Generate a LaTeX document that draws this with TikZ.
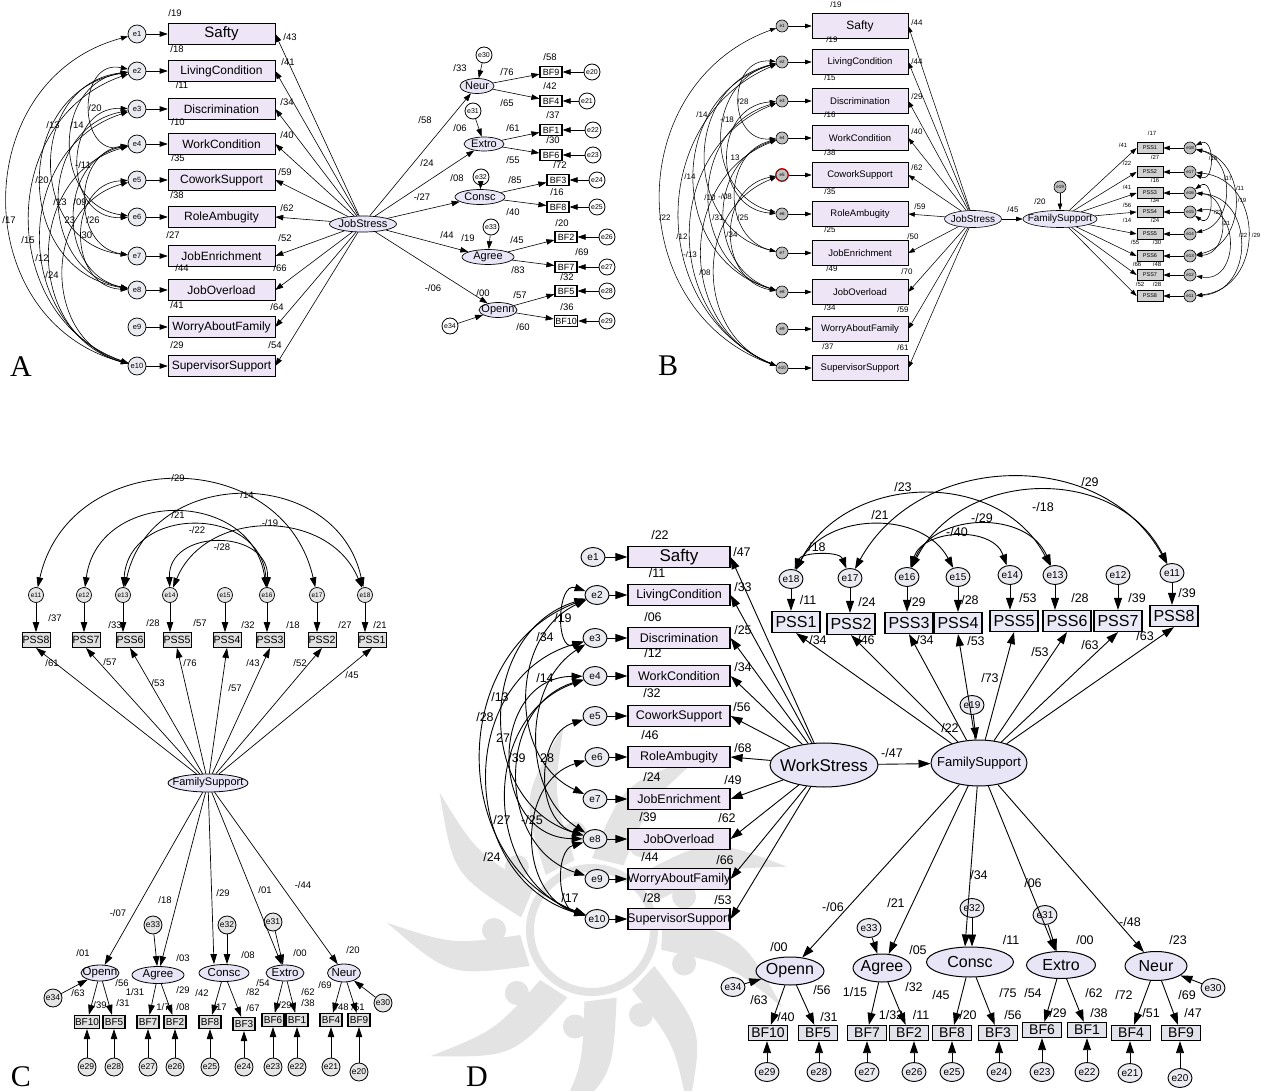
\documentclass[tikz,border=0pt]{standalone}
\usepackage{fontspec}
\setmainfont{Liberation Sans}
\newfontfamily\letterfont{Liberation Serif}
\usetikzlibrary{arrows.meta,shapes.geometric}
\definecolor{boxfill}{RGB}{238,229,247}
\definecolor{ellfill}{RGB}{232,230,246}
\definecolor{errfill}{RGB}{234,234,241}
\definecolor{pssfill}{RGB}{234,234,246}
\definecolor{bffill}{RGB}{226,226,234}
\newcommand\fsz[1]{\fontsize{#1}{#1}\selectfont}
\newcommand\covleft[5]{\pgfmathsetmacro\covk{#4*cot(2*atan(1.5*#4/#5))}\pgfmathsetmacro\covkn{-\covk}%
  \draw[#1] (#2) .. controls +(-#4,\covk) and +(-#4,\covkn) .. (#3);}
\newcommand\covright[5]{\pgfmathsetmacro\covk{#4*cot(2*atan(1.5*#4/#5))}\pgfmathsetmacro\covkn{-\covk}%
  \draw[#1] (#2) .. controls +(#4,\covk) and +(#4,\covkn) .. (#3);}
\newcommand\covup[5]{\pgfmathsetmacro\covk{#4*cot(2*atan(1.5*#4/#5))}\pgfmathsetmacro\covkn{-\covk}%
  \draw[#1] (#2) .. controls +(\covk,-#4) and +(\covkn,-#4) .. (#3);}
\tikzset{
 aBox/.style={draw,line width=.6pt,fill=boxfill,minimum width=107pt,minimum height=21pt,inner xsep=-4pt,inner ysep=0pt,font=\fsz{12}},
 aErr/.style={circle,draw,line width=.7pt,fill=errfill,minimum size=18pt,inner sep=0pt,font=\fsz{7.5}},
 aLat/.style={ellipse,draw,line width=.7pt,fill=ellfill,inner xsep=-8pt,inner ysep=-3pt,font=\fsz{11}},
 aBF/.style={draw,line width=1.2pt,fill=white,minimum width=22pt,minimum height=11pt,inner xsep=1pt,inner ysep=0pt,font=\fsz{9}},
 aE2/.style={circle,draw,line width=.8pt,fill=white,minimum size=16pt,inner sep=0pt,font=\fsz{7}},
 aArr/.style={line width=.6pt,arrows={-Triangle[length=8pt,width=5.5pt]}},
 aCov/.style={line width=.6pt,arrows={Triangle[length=7pt,width=5pt]-Triangle[length=7pt,width=5pt]}},
 aLab/.style={every node/.style={font=\fsz{9.5},inner sep=0pt}},
 bBox/.style={draw,line width=.6pt,fill=boxfill,minimum width=96pt,minimum height=25pt,inner xsep=-4pt,inner ysep=0pt,font=\fsz{9.5}},
 bErr/.style={circle,draw,line width=.6pt,fill=black!25,minimum size=12pt,inner sep=0pt,font=\fsz{4.5}},
 bLat/.style={ellipse,draw,line width=.6pt,fill=ellfill,inner xsep=-8pt,inner ysep=-3pt,font=\fsz{10}},
 bPSS/.style={draw,line width=.8pt,fill=black!18,minimum width=26pt,minimum height=11pt,inner sep=0pt,font=\fsz{5.5}},
 bArr/.style={line width=.55pt,arrows={-Triangle[length=6.5pt,width=4.5pt]}},
 bCov/.style={line width=.55pt,arrows={Triangle[length=6pt,width=4pt]-Triangle[length=6pt,width=4pt]}},
 bLab/.style={every node/.style={font=\fsz{8},inner sep=0pt}},
 bLabS/.style={every node/.style={font=\fsz{6},inner sep=0pt}},
 cPSS/.style={draw,line width=.9pt,fill=black!12,minimum width=28pt,minimum height=15pt,inner xsep=0pt,inner ysep=0pt,font=\fsz{10.5}},
 cErr/.style={circle,draw,line width=.7pt,fill=black!10,minimum size=15pt,inner sep=0pt,font=\fsz{6.5}},
 cErrB/.style={circle,draw,line width=.8pt,fill=black!10,minimum size=18pt,inner sep=0pt,font=\fsz{8.5}},
 cLat/.style={ellipse,draw,line width=.8pt,fill=ellfill,inner xsep=-8pt,inner ysep=-3pt,font=\fsz{11.5}},
 cBF/.style={draw,line width=1.3pt,fill=black!12,minimum width=22pt,minimum height=13pt,inner xsep=.5pt,inner ysep=0pt,font=\fsz{10}},
 cArr/.style={line width=.7pt,arrows={-Triangle[length=10pt,width=6.5pt]}},
 cCov/.style={line width=.8pt,arrows={Triangle[length=10pt,width=6.5pt]-Triangle[length=10pt,width=6.5pt]}},
 cLab/.style={every node/.style={font=\fsz{9.5},inner sep=0pt}},
 dBox/.style={draw,line width=1.2pt,fill=boxfill,minimum width=102pt,minimum height=21pt,inner xsep=-8pt,inner ysep=0pt,font=\fsz{12.5}},
 dErr/.style={ellipse,draw,line width=.9pt,fill=errfill,minimum width=24pt,minimum height=19pt,inner xsep=-4pt,inner ysep=-2pt,font=\fsz{10}},
 dLat/.style={ellipse,draw,line width=1pt,fill=ellfill,inner xsep=-10pt,inner ysep=-4pt,font=\fsz{16}},
 dPSS/.style={draw,line width=1.2pt,fill=pssfill,minimum width=48pt,minimum height=21pt,inner xsep=-2pt,inner ysep=0pt,font=\fsz{16}},
 dBF/.style={draw,line width=1.3pt,fill=bffill,minimum width=39pt,minimum height=15pt,inner xsep=-2pt,inner ysep=0pt,font=\fsz{14}},
 dArr/.style={line width=.9pt,arrows={-Triangle[length=12pt,width=8pt]}},
 dCov/.style={line width=.9pt,arrows={Triangle[length=11pt,width=7.5pt]-Triangle[length=11pt,width=7.5pt]}},
 dLab/.style={every node/.style={font=\fsz{12.5},inner sep=0pt}},
 letter/.style={font=\letterfont\fsz{30},inner sep=0pt},
 wm/.style={fill=black!11},
}
\begin{document}
\begin{tikzpicture}[x=1pt,y=-1pt]
\useasboundingbox (0,0) rectangle (1261,1091);
\fill[white] (0,0) rectangle (1261,1091);
% ---------- watermark behind panel D ----------
\begin{scope}[shift={(592,930)}]
\foreach \a in {0,40,...,320}{
 \fill[wm] (\a-10:72) .. controls (\a+2:150) .. (\a+22:205) .. controls (\a+14:140) .. (\a+16:72) -- cycle;}
\draw[black!11,line width=8pt] (0,0) circle[radius=62];
\foreach \a in {20,60,...,340}{\fill[wm] (\a:98) circle[radius=12];}
\end{scope}

% ================= PANEL A =================
\foreach \i/\y/\t in {1/34/{\fsz{15}Safty},2/71/LivingCondition,3/109/Discrimination,4/144/WorkCondition,5/180/CoworkSupport,6/217/RoleAmbugity,7/256/JobEnrichment,8/290/JobOverload,9/327/WorryAboutFamily,10/366/SupervisorSupport}{
 \node[aBox] (aB\i) at (221.5,\y) {\t};
 \node[aErr] (aE\i) at (137,\y) {e\i};
 \draw[aArr] (aE\i) -- (aB\i);}
\node[aLat,minimum width=67pt,minimum height=16pt] (aJS) at (363,224) {JobStress};
\foreach \i in {1,...,10}{\draw[aArr] (aJS) -- (aB\i.east);}
\node[aLat,minimum width=34pt,minimum height=15pt] (aNeur) at (477,86) {Neur};
\node[aLat,minimum width=40pt,minimum height=14pt] (aExtro) at (484,144) {Extro};
\node[aLat,minimum width=50pt,minimum height=15pt] (aConsc) at (480,197) {Consc};
\node[aLat,minimum width=52pt,minimum height=15pt] (aAgree) at (488,257) {Agree};
\node[aLat,minimum width=38pt,minimum height=15pt] (aOpenn) at (498,310) {Openn};
\foreach \l in {Neur,Extro,Consc,Agree,Openn}{\draw[aArr] (aJS) -- (a\l);}
\foreach \n/\x/\y/\e/\ex/\l in {9/551/72/20/592/Neur,4/551/101/21/587/Neur,1/551/130/22/593/Extro,6/551/155/23/593/Extro,3/558/180/24/597/Consc,8/558/207/25/597/Consc,2/566/237/26/607/Agree,7/566/267/27/607/Agree,5/566/291/28/607/Openn,10/566/321/29/607/Openn}{
 \node[aBF] (aBF\n) at (\x,\y) {BF\n};
 \node[aE2] (aE\e) at (\ex,\y) {e\e};
 \draw[aArr] (aE\e) -- (aBF\n);
 \draw[aArr] (a\l) -- (aBF\n);}
\node[aE2] (aE30) at (484,55) {e30};
\node[aE2] (aE31) at (473,111) {e31};
\node[aE2] (aE32) at (481,177) {e32};
\node[aE2] (aE33) at (491,227) {e33};
\node[aE2] (aE34) at (450,326) {e34};
\draw[aArr] (aE30) -- (aNeur);
\draw[aArr] (aE31) -- (aExtro);
\draw[aArr] (aE32) -- (aConsc);
\draw[aArr] (aE33) -- (aAgree);
\draw[aArr] (aE34) -- (aOpenn);
\covleft{aCov}{aE1}{aE10}{170}{332}
\covleft{aCov}{aE2}{aE10}{140}{295}
\covleft{aCov}{aE3}{aE10}{125}{257}
\covleft{aCov}{aE4}{aE10}{113}{222}
\covleft{aCov}{aE2}{aE8}{125}{219}
\covleft{aCov}{aE2}{aE7}{110}{185}
\covleft{aCov}{aE2}{aE6}{85}{146}
\covleft{aCov}{aE2}{aE4}{60}{73}
\covleft{aCov}{aE3}{aE6}{75}{108}
\covleft{aCov}{aE3}{aE8}{100}{181}
\covleft{aCov}{aE4}{aE8}{80}{146}
\covleft{aCov}{aE5}{aE10}{95}{186}
\covleft{aCov}{aE4}{aE7}{65}{112}
\covleft{aCov}{aE5}{aE8}{70}{110}
\path[aLab] (175,13) node{/19} (177,49) node{/18} (182,85) node{/11} (178,122) node{/10} (178,158) node{/35}
 (177,195) node{/38} (173,235) node{/27} (182,268) node{/44} (177,305) node{/41} (177,345) node{/29}
 (290,37) node{/43} (288,62) node{/41} (287,102) node{/34} (287,135) node{/40} (285,172) node{/59}
 (287,208) node{/62} (285,238) node{/52} (280,268) node{/66} (277,307) node{/64} (275,345) node{/54}
 (95,108) node{/20} (53,125) node{/13} (77,125) node{/14} (83,165) node{-/11} (42,180) node{/20}
 (60,202) node{/13} (80,202) node{/09} (9,220) node{/17} (70,220) node{23} (93,220) node{/26}
 (28,240) node{/15} (87,235) node{30} (42,258) node{/12} (52,275) node{/24}
 (460,68) node{/33} (507,72) node{/76} (550,57) node{/58} (550,86) node{/42} (507,103) node{/65}
 (425,120) node{/58} (460,128) node{/06} (513,128) node{/61} (553,115) node{/37} (553,140) node{/30}
 (513,160) node{/55} (427,163) node{/24} (457,178) node{/08} (515,180) node{/85} (560,165) node{/72}
 (557,192) node{/16} (513,212) node{/40} (422,197) node{-/27} (447,235) node{/44} (468,238) node{/19}
 (517,240) node{/45} (562,223) node{/20} (582,252) node{/69} (518,270) node{/83} (567,277) node{/32}
 (520,295) node{/57} (483,293) node{/00} (433,288) node{-/06} (567,307) node{/36} (523,327) node{/60};
\node[letter] (lA) at (21,367) {A};

% ================= PANEL B =================
\foreach \i/\y/\t in {1/26/{\fsz{12}Safty},2/62/LivingCondition,3/101/Discrimination,4/138/WorkCondition,5/175/CoworkSupport,6/214/RoleAmbugity,7/253/JobEnrichment,8/292/JobOverload,9/329/WorryAboutFamily,10/368/SupervisorSupport}{
 \node[bBox] (bB\i) at (860,\y) {\t};
 \node[bErr] (bE\i) at (782,\y) {e\i};
 \draw[bArr] (bE\i) -- (bB\i);}
\draw[red!80!black,line width=.8pt] (bE5.center) circle[radius=6.5];
\node[bLat,minimum width=57pt,minimum height=17pt] (bJS) at (973,219) {JobStress};
\node[bLat,minimum width=74pt,minimum height=17pt] (bFS) at (1060,219) {FamilySupport};
\node[bErr] (bE19) at (1060,187) {e19};
\draw[bArr] (bJS) -- (bFS);
\draw[bArr] (bE19) -- (bFS);
\foreach \i in {1,...,10}{\draw[bArr] (bJS) -- (bB\i.east);}
\foreach \i/\y/\e in {1/148/18,2/172/17,3/193/16,4/212/15,5/234/14,6/256/13,7/275/12,8/296/11}{
 \node[bPSS] (bP\i) at (1150,\y) {PSS\i};
 \node[bErr] (bE\e) at (1190,\y) {e\e};
 \draw[bArr] (bE\e) -- (bP\i);
 \draw[bArr] (bFS) -- (bP\i.west);}
\covleft{bCov}{bE1}{bE10}{160}{342}
\covleft{bCov}{bE2}{bE10}{135}{306}
\covleft{bCov}{bE3}{bE10}{120}{267}
\covleft{bCov}{bE4}{bE10}{105}{230}
\covleft{bCov}{bE2}{bE8}{115}{230}
\covleft{bCov}{bE2}{bE7}{100}{191}
\covleft{bCov}{bE2}{bE6}{78}{152}
\covleft{bCov}{bE2}{bE4}{55}{76}
\covleft{bCov}{bE3}{bE6}{70}{113}
\covleft{bCov}{bE3}{bE8}{95}{191}
\covleft{bCov}{bE4}{bE8}{75}{154}
\covleft{bCov}{bE5}{bE10}{88}{193}
\covleft{bCov}{bE4}{bE7}{60}{115}
\covleft{bCov}{bE5}{bE8}{65}{117}
\covright{bCov}{bE18}{bE17}{25}{24}
\covright{bCov}{bE18}{bE14}{45}{86}
\covright{bCov}{bE17}{bE11}{75}{124}
\covright{bCov}{bE18}{bE13}{58}{108}
\covright{bCov}{bE16}{bE15}{25}{19}
\covright{bCov}{bE16}{bE13}{40}{63}
\covright{bCov}{bE15}{bE12}{50}{63}
\covright{bCov}{bE16}{bE11}{65}{103}
\path[bLab] (836,5) node{/19} (832,40) node{/19} (830,78) node{/15} (830,115) node{/16} (830,153) node{/38}
 (830,192) node{/35} (830,230) node{/25} (832,269) node{/49} (830,308) node{/34} (828,347) node{/37}
 (917,23) node{/44} (917,62) node{/44} (917,97) node{/29} (917,132) node{/40} (917,168) node{/62}
 (920,207) node{/59} (913,237) node{/50} (907,272) node{/70} (903,310) node{/59} (903,348) node{/61}
 (743,102) node{/28} (702,115) node{/14} (727,120) node{-/18} (735,158) node{13} (690,177) node{/14}
 (710,198) node{/10} (725,197) node{-/08} (665,218) node{/22} (718,218) node{/31} (743,218) node{/25}
 (682,237) node{/12} (732,235) node{/34} (690,255) node{-/13} (705,273) node{/08}
 (1013,210) node{/45} (1040,202) node{/20};
\path[bLabS] (1152,133) node{/17} (1123,145) node{/41} (1127,163) node{/22} (1155,157) node{/27}
 (1155,180) node{/16} (1127,187) node{/41} (1155,200) node{/34} (1127,205) node{/56} (1127,220) node{/14}
 (1155,220) node{/24} (1135,242) node{/55} (1157,242) node{/30} (1137,264) node{/66} (1157,264) node{/48}
 (1140,284) node{/52} (1157,284) node{/28}
 (1213,158) node{/16} (1228,178) node{/17} (1240,188) node{/11} (1242,200) node{/19} (1218,212) node{/23}
 (1226,223) node{/21} (1243,235) node{/22} (1256,235) node{/29};
\node[letter] (lB) at (668,366) {B};

% ================= PANEL C =================
\node[cLat,minimum width=80pt,minimum height=18pt,font=\fsz{11}] (cFS) at (208,783) {FamilySupport};
\foreach \i/\x/\e/\ex in {8/36/11/36,7/86/12/84,6/130/13/123,5/177/14/170,4/227/15/225,3/270/16/267,2/322/17/317,1/372/18/365}{
 \node[cPSS] (cP\i) at (\x,640) {PSS\i};
 \node[cErr] (cE\e) at (\ex,595) {e\e};
 \draw[cArr] (cE\e) -- (cE\e |- cP\i.north);
 \draw[cArr] (cFS) -- (cP\i.south);}
\covup{cCov}{cE11}{cE17}{150}{281}
\covup{cCov}{cE13}{cE18}{130}{242}
\covup{cCov}{cE12}{cE16}{107}{183}
\covup{cCov}{cE13}{cE16}{90}{144}
\covup{cCov}{cE14}{cE18}{87}{195}
\covup{cCov}{cE14}{cE16}{67}{97}
\node[cLat,minimum width=38pt,minimum height=16pt] (cOpenn) at (100,973) {Openn};
\node[cLat,minimum width=52pt,minimum height=17pt] (cAgree) at (158,975) {Agree};
\node[cLat,minimum width=50pt,minimum height=17pt] (cConsc) at (224,973) {Consc};
\node[cLat,minimum width=38pt,minimum height=16pt] (cExtro) at (285,973) {Extro};
\node[cLat,minimum width=33pt,minimum height=18pt] (cNeur) at (344,973) {Neur};
\foreach \n/\x/\y/\l/\e/\ey in {10/87/1022/Openn/29/1067,5/114/1022/Openn/28/1067,7/148/1022/Agree/27/1067,2/175/1022/Agree/26/1067,8/210/1022/Consc/25/1067,3/244/1024/Consc/24/1067,6/273/1020/Extro/23/1067,1/297/1020/Extro/22/1067,4/331/1020/Neur/21/1067,9/359/1020/Neur/20/1072}{
 \node[cBF] (cBF\n) at (\x,\y) {BF\n};
 \node[cErrB] (cE\e) at (\x,\ey) {e\e};
 \draw[cArr] (cE\e) -- (cBF\n);
 \draw[cArr] (c\l) -- (cBF\n);}
\node[cErrB] (cE33) at (153,925) {e33};
\node[cErrB] (cE32) at (227,925) {e32};
\node[cErrB] (cE31) at (273,922) {e31};
\node[cErrB] (cE34) at (53,998) {e34};
\node[cErrB] (cE30) at (383,1003) {e30};
\draw[cArr] (cFS) -- (cOpenn);
\draw[cArr] (cFS) -- (cAgree);
\draw[cArr] (cFS) -- ([xshift=-10pt]cConsc.north);
\draw[cArr] (cFS) -- (cExtro);
\draw[cArr] (cFS) -- (cNeur);
\draw[cArr] (cE33) -- (cAgree);
\draw[cArr] (cE32) -- (cE32 |- cConsc.north);
\draw[cArr] (cE31) -- (cExtro);
\draw[cArr] (cE34) -- (cOpenn);
\draw[cArr] (cE30) -- (cNeur);
\path[cLab] (178,478) node{/29} (247,495) node{/14} (178,515) node{/21} (270,523) node{-/19} (197,530) node{-/22} (222,547) node{-/28}
 (55,618) node{/37} (115,625) node{/33} (153,623) node{/28} (200,623) node{/57} (248,625) node{/32} (293,625) node{/18} (345,625) node{/27} (380,625) node{/21}
 (52,663) node{/61} (110,662) node{/57} (158,683) node{/53} (190,663) node{/76} (235,688) node{/57} (253,663) node{/43} (300,663) node{/52} (352,675) node{/45}
 (118,913) node{-/07} (165,900) node{/18} (223,893) node{/29} (265,890) node{/01} (303,885) node{-/44}
 (83,953) node{/01} (183,958) node{/03} (248,955) node{/08} (300,953) node{/00} (353,950) node{/20}
 (78,993) node{/63} (122,983) node{/56} (100,1005) node{/39} (123,1003) node{/31} (135,992) node{1/31}
 (183,990) node{/29} (163,1007) node{1/7} (183,1007) node{/08} (202,993) node{/42} (220,1007) node{/17}
 (253,992) node{/82} (253,1008) node{/67} (263,983) node{/54} (285,1005) node{/29} (308,992) node{/62}
 (308,1003) node{/38} (325,985) node{/69} (342,1007) node{/48} (358,1007) node{/51};
\node[letter] (lC) at (21,1077) {C};

% ================= PANEL D =================
\foreach \i/\y/\ex/\t in {1/557/593/{\fsz{17}Safty},2/595/597/LivingCondition,3/638/595/Discrimination,4/676/595/WorkCondition,5/716/595/CoworkSupport,6/757/597/RoleAmbugity,7/799/595/JobEnrichment,8/839/595/JobOverload,9/879/597/WorryAboutFamily,10/919/597/SupervisorSupport}{
 \node[dBox] (dB\i) at (679,\y) {\t};
 \node[dErr] (dE\i) at (\ex,\y) {e\i};
 \draw[dArr] (dE\i) -- (dB\i);}
\node[dLat,minimum width=108pt,minimum height=44pt,font=\fsz{17}] (dWS) at (824,765) {WorkStress};
\node[dLat,minimum width=96pt,minimum height=46pt,font=\fsz{13}] (dFS) at (979,763) {FamilySupport};
\foreach \i in {1,...,10}{\draw[dArr] (dWS) -- (dB\i.east);}
\draw[dArr] (dWS) -- (dFS);
\node[dErr] (dE19) at (972,705) {e19};
\draw[dArr] (dE19) -- (dFS);
\foreach \i/\x/\y/\e/\ex/\ey in {1/796/622/18/791/579,2/851/624/17/850/578,3/909/623/16/907/577,4/958/623/15/958/577,5/1014/621/14/1010/575,6/1067/621/13/1055/575,7/1118/621/12/1118/575,8/1174/616/11/1172/573}{
 \node[dPSS] (dP\i) at (\x,\y) {PSS\i};
 \node[dErr] (dE\e) at (\ex,\ey) {e\e};
 \draw[dArr] (dE\e) -- (dE\e |- dP\i.north);
 \draw[dArr] (dFS) -- (dP\i.south);}
\covup{dCov}{dE18}{dE17}{27}{59}
\covup{dCov}{dE18}{dE13}{107}{264}
\covup{dCov}{dE17}{dE11}{127}{322}
\covup{dCov}{dE18}{dE15}{67}{167}
\covup{dCov}{dE16}{dE11}{109}{265}
\covup{dCov}{dE16}{dE13}{65}{148}
\covup{dCov}{dE16}{dE14}{49}{103}
\covleft{dCov}{dE2}{dE3}{40}{43}
\covleft{dCov}{dE2}{dE7}{87}{204}
\covleft{dCov}{dE3}{dE8}{73}{201}
\covleft{dCov}{dE2}{dE8}{120}{244}
\covleft{dCov}{dE2}{dE10}{150}{324}
\covleft{dCov}{dE3}{dE10}{140}{281}
\covleft{dCov}{dE4}{dE8}{107}{163}
\covleft{dCov}{dE4}{dE9}{100}{203}
\covleft{dCov}{dE5}{dE8}{60}{123}
\covleft{dCov}{dE4}{dE10}{115}{243}
\covleft{dCov}{dE6}{dE10}{80}{162}
\covleft{dCov}{dE8}{dE10}{40}{80}
\node[dLat,minimum width=68pt,minimum height=28pt] (dOpenn) at (790,971) {Openn};
\node[dLat,minimum width=58pt,minimum height=28pt] (dAgree) at (882,968) {Agree};
\node[dLat,minimum width=87pt,minimum height=30pt] (dConsc) at (970,962) {Consc};
\node[dLat,minimum width=69pt,minimum height=27pt] (dExtro) at (1061,965) {Extro};
\node[dLat,minimum width=62pt,minimum height=29pt] (dNeur) at (1156,966) {Neur};
\foreach \n/\x/\y/\l/\e/\ex/\ey in {10/768/1033/Openn/29/767/1072,5/818/1033/Openn/28/819/1072,7/867/1033/Agree/27/867/1072,2/909/1033/Agree/26/914/1072,8/952/1033/Consc/25/952/1072,3/998/1033/Consc/24/999/1072,6/1042/1030/Extro/23/1042/1072,1/1087/1030/Extro/22/1087/1072,4/1131/1033/Neur/21/1130/1073,9/1181/1033/Neur/20/1180/1078}{
 \node[dBF] (dBF\n) at (\x,\y) {BF\n};
 \node[dErr] (dE\e) at (\ex,\ey) {e\e};
 \draw[dArr] (dE\e) -- (dE\e |- dBF\n.south);
 \draw[dArr] (d\l) -- (dBF\n);}
\node[dErr] (dE33) at (869,928) {e33};
\node[dErr] (dE32) at (972,908) {e32};
\node[dErr] (dE31) at (1045,915) {e31};
\node[dErr] (dE34) at (733,987) {e34};
\node[dErr] (dE30) at (1213,988) {e30};
\draw[dArr] (dFS) -- (dOpenn);
\draw[dArr] (dFS) -- (dAgree);
\draw[dArr] (dFS) -- ([xshift=-5pt]dConsc.north);
\draw[dArr] (dFS) -- (dExtro);
\draw[dArr] (dFS) -- (dNeur);
\draw[dArr] (dE33) -- (dAgree);
\draw[dArr] (dE32) -- (dE32 |- dConsc.north);
\draw[dArr] (dE31) -- (dExtro);
\draw[dArr] (dE34) -- (dOpenn);
\draw[dArr] (dE30) -- (dNeur);
\path[dLab] (660,535) node{/22} (657,573) node{/11} (653,617) node{/06} (653,653) node{/12} (652,693) node{/32}
 (650,735) node{/46} (652,777) node{/24} (648,817) node{/39} (650,857) node{/44} (652,898) node{/28}
 (742,552) node{/47} (743,587) node{/33} (743,630) node{/25} (743,667) node{/34} (742,707) node{/56}
 (743,748) node{/68} (733,780) node{/49} (727,818) node{/62} (725,860) node{/66} (723,900) node{/53}
 (808,600) node{/11} (867,602) node{/24} (917,602) node{/29} (970,600) node{/28} (1028,598) node{/53}
 (1080,598) node{/28} (1137,598) node{/39} (1187,593) node{/39}
 (818,640) node{/34} (866,640) node{/46} (925,640) node{/34} (976,641) node{/53} (1145,636) node{/63}
 (1040,652) node{/53} (1090,645) node{/63} (990,678) node{/73} (950,728) node{/22} (892,753) node{-/47}
 (903,487) node{/23} (1090,482) node{/29} (880,515) node{/21} (1043,507) node{-/18} (982,518) node{-/29}
 (817,547) node{/18} (957,532) node{-/40}
 (563,618) node{/19} (545,637) node{/34} (545,678) node{/14} (500,697) node{/13} (485,717) node{/28}
 (503,738) node{27} (517,758) node{/39} (547,758) node{28} (502,820) node{/27} (532,820) node{-/25}
 (492,857) node{/24} (570,898) node{/17}
 (833,907) node{-/06} (896,903) node{/21} (979,875) node{/34} (1033,883) node{/06} (1130,922) node{-/48}
 (779,947) node{/00} (918,950) node{/05} (1011,940) node{/11} (1085,940) node{/00} (1178,940) node{/23}
 (759,1000) node{/63} (822,990) node{/56} (855,992) node{1/15} (914,987) node{/32} (941,995) node{/45}
 (1008,993) node{/75} (1033,993) node{/54} (1094,993) node{/62} (1124,995) node{/72} (1187,995) node{/69}
 (786,1017) node{/40} (829,1017) node{/31} (891,1015) node{1/32} (921,1015) node{/11} (968,1015) node{/20}
 (1013,1015) node{/56} (1058,1013) node{/29} (1099,1013) node{/38} (1151,1013) node{/51} (1193,1013) node{/47};
\node[letter] (lD) at (477,1077) {D};
\end{tikzpicture}
\end{document}
